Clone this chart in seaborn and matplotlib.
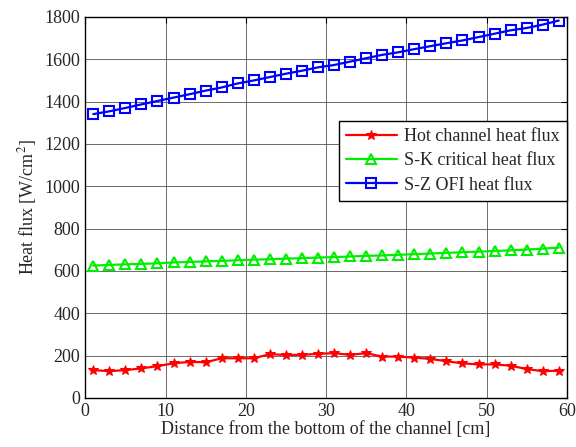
import matplotlib
matplotlib.use("Agg")
import matplotlib.pyplot as plt
import seaborn as sns
import pandas as pd

distance = [1, 3, 5, 7, 9, 11, 13, 15, 17, 19, 21, 23, 25, 27, 29,
            31, 33, 35, 37, 39, 41, 43, 45, 47, 49, 51, 53, 55, 57, 59]
hot_flux = [131, 126, 131, 139, 150, 163, 170, 168, 187, 187, 187, 206, 203, 203, 208,
            211, 203, 211, 195, 195, 190, 184, 173, 163, 158, 158, 152, 136, 126, 128]
sk_chf = [625, 628, 631, 633, 636, 640, 642, 645, 647, 650, 653, 655, 658, 660, 663,
          665, 668, 671, 673, 676, 679, 682, 685, 688, 691, 694, 697, 701, 705, 710]
sz_ofi = [1341, 1354, 1370, 1387, 1403, 1419, 1435, 1452, 1467, 1486, 1500, 1516, 1532, 1546, 1562,
          1573, 1589, 1605, 1621, 1633, 1648, 1662, 1676, 1689, 1705, 1721, 1737, 1748, 1764, 1783]
labels = ["Hot channel heat flux", "S-K critical heat flux", "S-Z OFI heat flux"]
xticks = [0, 10, 20, 30, 40, 50, 60]
yticks = [0, 200, 400, 600, 800, 1000, 1200, 1400, 1600, 1800]

sns.set_style("white")
plt.rcParams['font.family'] = ['Liberation Serif', 'DejaVu Serif']
plt.rcParams['mathtext.fontset'] = 'stix'

fig = plt.figure(figsize=(5.76, 4.47), dpi=100)
ax = fig.add_axes([0.148, 0.110, 0.836, 0.852])

df = pd.DataFrame({"x": distance, "hot": hot_flux, "sk": sk_chf, "sz": sz_ofi})

sns.lineplot(data=df, x="x", y="hot", ax=ax, color="red", marker="*", markersize=7,
             markeredgecolor="red", linewidth=1.6, label=labels[0])
sns.lineplot(data=df, x="x", y="sk", ax=ax, color="#00ee00", marker="^", markersize=7,
             markerfacecolor="none", markeredgecolor="#00ee00", markeredgewidth=1.5,
             linewidth=1.6, label=labels[1])
sns.lineplot(data=df, x="x", y="sz", ax=ax, color="blue", marker="s", markersize=6.5,
             markerfacecolor="none", markeredgecolor="blue", markeredgewidth=1.5,
             linewidth=1.6, label=labels[2])

ax.set_xlim(0, 60)
ax.set_ylim(0, 1800)
ax.set_xticks(xticks)
ax.set_yticks(yticks)
ax.grid(True, color="#555555", linewidth=0.6)
ax.tick_params(direction="in", top=True, right=True, length=4, labelsize=13, color="black")
for s in ax.spines.values():
    s.set_color("black")
    s.set_linewidth(1.0)
ax.set_xlabel("Distance from the bottom of the channel [cm]", fontsize=13, labelpad=1)
ax.set_ylabel("Heat flux [W/cm$^2$]", fontsize=13, labelpad=4)

leg = ax.legend(loc="upper right", bbox_to_anchor=(1.0, 0.727), fontsize=13,
                frameon=True, fancybox=False, edgecolor="black", framealpha=1,
                borderpad=0.4, labelspacing=0.4, handlelength=2.8, handletextpad=0.4,
                borderaxespad=0)
leg.get_frame().set_linewidth(1.0)

fig.savefig("out.png", dpi=100)
